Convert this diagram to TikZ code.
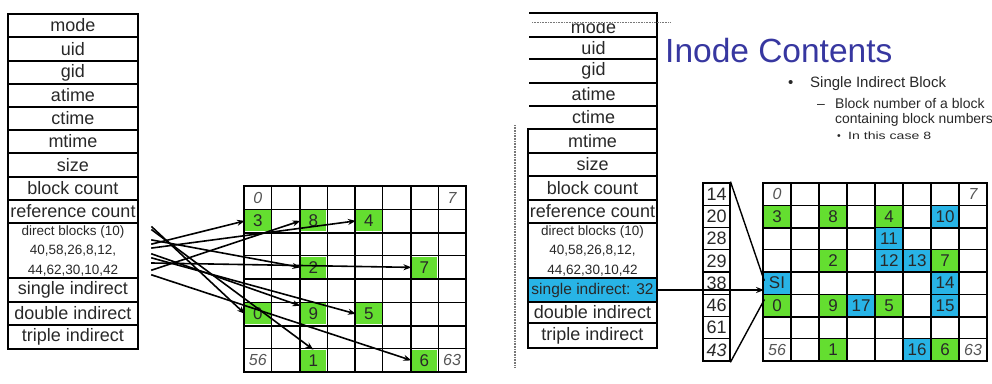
\documentclass[tikz,border=0pt]{standalone}
\usepackage{fontspec}
\setmainfont{Liberation Sans}
\usetikzlibrary{arrows.meta}
\definecolor{gfill}{RGB}{100,222,48}
\definecolor{bfill}{RGB}{40,180,230}
\definecolor{txt}{RGB}{40,40,40}
\definecolor{ttl}{RGB}{55,55,160}
\definecolor{dotc}{RGB}{120,120,120}
\definecolor{corner}{RGB}{85,85,85}
\begin{document}
\begin{tikzpicture}[x=1pt,y=-1pt,line cap=rect,
  irow/.style={draw=black, line width=1.4pt, minimum width=130pt, inner sep=0pt, text=txt, font=\fontsize{18}{20}\selectfont},
  rrow/.style={irow, minimum width=129pt},
  irowopen/.style={inner sep=0pt, text=txt, font=\fontsize{18}{20}\selectfont},
  dirtext/.style={align=center, font=\fontsize{13.5}{19.5}\selectfont},
  gcell/.style={fill=gfill, minimum width=25.5pt, minimum height=21pt, inner sep=0pt, text=txt, font=\fontsize{17}{17}\selectfont},
  bcell/.style={gcell, fill=bfill},
  ccell/.style={inner sep=0pt, text=corner, font=\fontsize{16}{16}\selectfont\itshape},
  ncell/.style={draw=black, line width=1.4pt, minimum width=27pt, minimum height=22.25pt, inner sep=0pt, text=txt, font=\fontsize{18}{18}\selectfont},
  arr/.style={line width=1.6pt, -{Stealth[length=8pt,width=6pt]}},
  dotl/.style={draw=dotc, line width=1.2pt, dash pattern=on 0.8pt off 0.8pt, line cap=butt},
  bul/.style={inner sep=0pt, anchor=base west, text=txt}
]
\path[use as bounding box] (0,0) rectangle (992,383);

% ---------------- left inode table ----------------
\foreach \nm/\tx/\a/\b in {lmode/mode/14/37, luid/uid/37/61, lgid/gid/61/84, latime/atime/84/107,
  lctime/ctime/107/130, lmtime/mtime/130/153, lsize/size/153/177, lbc/block count/177/200,
  lrc/reference count/200/223, lsi/single indirect/278/302, ldi/double indirect/302/325,
  lti/triple indirect/325/349}
  \node[irow, minimum height={(\b-\a)*1pt}] (\nm) at (73,{(\a+\b)/2}) {\tx};
\node[irow, minimum height=55pt] (ldir) at (73,250.5) {};
\node[dirtext, text=txt] (ldirt) at (73,250.5) {direct blocks (10)\\40,58,26,8,12,\\44,62,30,10,42};

% ---------------- left grid ----------------
\foreach \i in {0,...,8} {
  \pgfmathsetmacro\w{ifthenelse(mod(\i,2)==0,2.0,1.2)}
  \draw[line width=\w pt] ({244+27.75*\i},186) -- ({244+27.75*\i},372);
  \draw[line width=\w pt] (244,{186+23.25*\i}) -- (466,{186+23.25*\i});
}
\foreach \c/\r/\t in {0/1/3, 2/1/8, 4/1/4, 2/3/2, 6/3/7, 0/5/0, 2/5/9, 4/5/5, 2/7/1, 6/7/6}
  \node[gcell] (L\c\r) at ({244+27.75*(\c+0.5)},{186+23.25*(\r+0.5)}) {\t};
\node[ccell] (lc0) at ({244+27.75*0.5},{186+23.25*0.5}) {0};
\node[ccell] (lc7) at ({244+27.75*7.5},{186+23.25*0.5}) {7};
\node[ccell] (lc56) at ({244+27.75*0.5},{186+23.25*7.5}) {56};
\node[ccell] (lc63) at ({244+27.75*7.5},{186+23.25*7.5}) {63};

% arrows from the direct blocks
\coordinate (s0) at (152,227);
\coordinate (s1) at (152,230);
\coordinate (s2) at (152,240);
\coordinate (s3) at (152,244);
\coordinate (s4) at (152,248);
\coordinate (s9) at (152,254);
\coordinate (s5) at (152,258);
\coordinate (s7) at (152,263);
\coordinate (s8) at (152,270);
\coordinate (s6) at (152,275);
\draw[arr] (s0) -- (L05.west);
\draw[arr] (s1) -- (L27.north);
\draw[arr] (s2) -- (L23.west);
\draw[arr] (s3) -- (L01.west);
\draw[arr] (s4) -- (L41.west);
\draw[arr] (s5) -- (L45.west);
\draw[arr] (s6) -- (L67.west);
\draw[arr] (s7) -- (L63.west);
\draw[arr] (s8) -- (L21.west);
\draw[arr] (s9) -- ([yshift=8pt]L25.west);

% ---------------- right inode table ----------------
\foreach \nm/\tx/\a/\b in {ruid/uid/37/59, rgid/gid/59/83, ratime/atime/83/106, rctime/ctime/106/129}
  \node[irowopen] (\nm) at (593.5,{(\a+\b)/2}) {\tx};
\node[irowopen] (rmode) at (593.5,27.5) {mode};
\fill[white] (545,14.5) rectangle (645,22.5);
\foreach \y in {13,37,59,83,106}
  \draw[line width=1.4pt] (530,\y) -- (657,\y);
\draw[line width=1.4pt] (657,13) -- (657,129);
\draw[dotl] (532,22.5) -- (670,22.5);
\foreach \nm/\tx/\a/\b in {rmtime/mtime/129/153, rsize/size/153/176, rbc/block count/176/200,
  rrc/reference count/200/223, rdi/double indirect/302/323, rti/triple indirect/323/348}
  \node[rrow, minimum height={(\b-\a)*1pt}] (\nm) at (592.5,{(\a+\b)/2}) {\tx};
\node[rrow, minimum height=55pt] (rdir) at (592.5,250.5) {};
\node[dirtext, text=txt] (rdirt) at (592.5,250.5) {direct blocks (10)\\40,58,26,8,12,\\44,62,30,10,42};
\node[rrow, minimum height=24pt, fill=bfill, font=\fontsize{15.5}{16}\selectfont] (rsi) at (592.5,290) {single indirect: 32};
\draw[dotl] (515,125) -- (515,367);

% ---------------- title and bullets ----------------
\node[inner sep=0pt, anchor=base west, text=ttl, font=\fontsize{33.5}{33}\selectfont] (title) at (665,62) {Inode Contents};
\node[bul, font=\fontsize{15}{15}\selectfont] (b1d) at (788,87) {•};
\node[bul, font=\fontsize{15}{15}\selectfont] (b1) at (810,87) {Single Indirect Block};
\node[bul, font=\fontsize{14}{14}\selectfont] (b2d) at (817,108) {–};
\node[bul, font=\fontsize{14}{14}\selectfont] (b2) at (835,108) {Block number of a block};
\node[bul, font=\fontsize{13.9}{14}\selectfont] (b3) at (835,123) {containing block numbers};
\node[bul, font=\fontsize{10.5}{11}\selectfont] (b4d) at (837,139) {•};
\node[bul, font=\fontsize{10.5}{11}\selectfont] (b4) at (848,139) {\scalebox{1.34}[1]{In this case 8}};

% ---------------- block-number column ----------------
\foreach \v [count=\i from 0] in {14,20,28,29,38,46,61}
  \node[ncell] (n\i) at (716.5,{183+22.25*(\i+0.5)}) {\v};
\node[ncell, font=\fontsize{18}{18}\selectfont\itshape] (n7) at (716.5,{183+22.25*7.5}) {43};

% ---------------- right grid ----------------
\foreach \i in {0,...,8} {
  \pgfmathsetmacro\w{ifthenelse(mod(\i,2)==0,2.0,1.2)}
  \draw[line width=\w pt] ({763+28*\i},183) -- ({763+28*\i},361);
  \draw[line width=\w pt] (763,{183+22.25*\i}) -- (987,{183+22.25*\i});
}
\foreach \c/\r/\t in {0/1/3, 2/1/8, 4/1/4, 2/3/2, 6/3/7, 0/5/0, 2/5/9, 4/5/5, 2/7/1, 6/7/6}
  \node[gcell] (R\c\r) at ({763+28*(\c+0.5)},{183+22.25*(\r+0.5)}) {\t};
\foreach \c/\r/\t in {6/1/10, 4/2/11, 4/3/12, 5/3/13, 0/4/SI, 6/4/14, 6/5/15, 3/5/17, 5/7/16}
  \node[bcell] (R\c\r) at ({763+28*(\c+0.5)},{183+22.25*(\r+0.5)}) {\t};
\node[ccell] (rc0) at ({763+28*0.5},{183+22.25*0.5}) {0};
\node[ccell] (rc7) at ({763+28*7.5},{183+22.25*0.5}) {7};
\node[ccell] (rc56) at ({763+28*0.5},{183+22.25*7.5}) {56};
\node[ccell] (rc63) at ({763+28*7.5},{183+22.25*7.5}) {63};

% fan and single-indirect pointer
\draw[line width=1.4pt] (n0.north east) -- ([yshift=3pt]R04.west);
\draw[line width=1.4pt] (n7.south east) -- ([yshift=-17pt]R04.west);
\draw[line width=1.3pt, -{Stealth[length=8pt,width=6pt]}] (rsi.east) -- (rsi.east -| R04.west);
\end{tikzpicture}
\end{document}
